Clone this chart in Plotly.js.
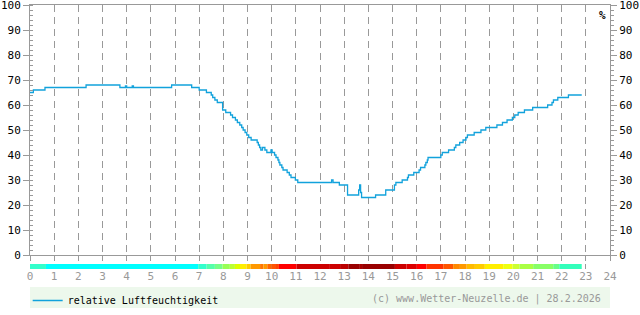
<!DOCTYPE html>
<html>
<head>
<meta charset="utf-8">
<script src="https://cdn.plot.ly/plotly-3.0.1.min.js"></script>
<style>
  html, body { margin: 0; padding: 0; background: #ffffff; }
  #chart { width: 640px; height: 315px; }
</style>
</head>
<body>
<div id="chart"></div>
<script>
// Relative humidity (%) - step change points (hour of day, value)
var hours = [0.00, 0.14, 0.62, 2.32, 3.72, 3.95, 4.00, 4.23, 4.28, 5.86, 6.69, 7.00, 7.30, 7.50, 7.56, 7.65, 7.75,
  7.97, 8.10, 8.30, 8.38, 8.50, 8.58, 8.68, 8.76, 8.82, 8.90, 8.97, 9.05, 9.15, 9.40, 9.45, 9.50, 9.55, 9.62,
  9.72, 9.80, 9.97, 10.02, 10.12, 10.18, 10.26, 10.30, 10.34, 10.42, 10.47, 10.64, 10.73, 10.80, 10.98, 11.08,
  12.48, 12.54, 12.80, 13.14, 13.60, 13.64, 13.68, 13.72, 14.30, 14.72, 15.08, 15.14, 15.40, 15.62, 15.66,
  15.88, 16.10, 16.16, 16.34, 16.38, 16.44, 16.47, 17.00, 17.06, 17.32, 17.56, 17.62, 17.78, 17.92, 18.04,
  18.10, 18.38, 18.66, 18.86, 19.32, 19.55, 19.74, 19.96, 20.06, 20.20, 20.46, 20.80, 21.42, 21.60, 21.66,
  21.84, 22.28, 22.83];
var humidity = [65, 66, 67, 68, 67, 67.6, 67, 67.6, 67, 68, 67, 66, 65, 64, 63, 62, 61,
  58, 57, 56, 55, 54, 53, 52, 51, 50, 49, 48, 47, 46, 45, 44, 43, 42, 43,
  42, 41, 42, 41, 40, 39, 38, 37, 36, 35, 34, 33, 32, 31, 30, 29,
  30, 29, 28, 24, 26, 28, 25, 23, 24, 26, 28, 29, 30, 31, 32,
  33, 34, 35, 36, 37, 38, 39, 40, 41, 42, 43, 44, 45, 46, 47,
  48, 49, 50, 51, 52, 53, 54, 55, 56, 57, 58, 59, 60, 61, 62,
  63, 64, 64];

// Colour strip below the axis (segment start hour, colour); last segment ends at stripEndHour
var stripStart = [0.00, 0.66, 6.96, 7.31, 7.65, 7.97, 8.27, 8.48, 8.69, 8.96, 9.13, 9.52, 9.66, 9.82, 10.00,
  10.14, 10.30, 11.03, 12.41, 12.83, 13.17, 13.65, 13.74, 15.10, 15.58, 16.00, 16.41, 17.10, 17.51, 17.79,
  18.07, 18.41, 18.82, 19.58, 19.97, 20.25, 20.82, 21.65, 21.90];
var stripColor = ['#33ffcc', '#00ffff', '#33ffcc', '#55ffaa', '#77ff88', '#99ff55', '#bbff33', '#ddff00',
  '#ffee00', '#ffcc00', '#ff9900', '#ff7700', '#ff9900', '#ff6600', '#ff5500',
  '#ff4400', '#ff0000', '#cc0000', '#cc0000', '#bb0000', '#990000', '#aa0000', '#990000', '#cc0000',
  '#dd0000', '#ff0000', '#ff3300', '#ff5500', '#ff8800', '#ff9900',
  '#ffbb00', '#ffcc00', '#ffee00', '#eeff11', '#ccff33', '#aaff44', '#88ff66', '#66ff88', '#33ffbb'];
var stripEndHour = 22.83;

var xTickVals = [0,1,2,3,4,5,6,7,8,9,10,11,12,13,14,15,16,17,18,19,20,21,22,23,24];
var yTickVals = [0,10,20,30,40,50,60,70,80,90,100];

var seriesName = 'relative Luftfeuchtigkeit';
var copyright = '(c) www.Wetter-Neuzelle.de | 28.2.2026';
var unitLabel = '%';

// build strip bars
var stripCenter = [], stripWidth = [], stripY = [];
for (var i = 0; i < stripStart.length; i++) {
  var end = (i + 1 < stripStart.length) ? stripStart[i + 1] : stripEndHour;
  stripCenter.push((stripStart[i] + end) / 2);
  stripWidth.push(end - stripStart[i]);
  stripY.push(1);
}

var mono = 'DejaVu Sans Mono, monospace';
var axisGrey = '#999999';

var traces = [
  {
    type: 'bar', x: stripCenter, y: stripY, width: stripWidth, base: 0,
    xaxis: 'x', yaxis: 'y2',
    marker: { color: stripColor, line: { width: 0 } },
    showlegend: false, hoverinfo: 'skip'
  },
  {
    type: 'scatter', mode: 'lines', x: hours, y: humidity,
    name: seriesName,
    line: { color: '#12a2dc', width: 1.3, shape: 'hv' },
    xaxis: 'x', yaxis: 'y'
  },
  {
    type: 'scatter', mode: 'lines', x: [null], y: [null],
    xaxis: 'x', yaxis: 'y3', showlegend: false, hoverinfo: 'skip'
  }
];

var plotTop = 5, plotBottom = 269, H = 315;
var plotH = plotBottom - plotTop;
function py(px) { return (plotBottom - px) / plotH; }

var layout = {
  width: 640, height: 315,
  margin: { l: 30, r: 30, t: plotTop, b: H - plotBottom, pad: 0, autoexpand: false },
  paper_bgcolor: '#ffffff', plot_bgcolor: 'rgba(0,0,0,0)',
  showlegend: true,
  font: { family: mono, size: 11, color: '#000000' },
  xaxis: {
    range: [0, 24], anchor: 'y', tickmode: 'array', tickvals: xTickVals,
    showgrid: true, gridcolor: axisGrey, griddash: '7px,5px', gridwidth: 1,
    showline: true, linecolor: axisGrey, linewidth: 1, mirror: true,
    ticks: 'outside', ticklen: 5, tickcolor: axisGrey, tickwidth: 1,
    tickfont: { family: mono, size: 11, color: axisGrey },
    ticklabelstandoff: 6,
    zeroline: false, fixedrange: true, automargin: false
  },
  yaxis: {
    domain: [py(255), 1], range: [0, 100], side: 'left', anchor: 'x',
    tickmode: 'array', tickvals: yTickVals,
    showgrid: false, zeroline: false,
    showline: true, linecolor: axisGrey, linewidth: 1,
    ticks: 'outside', ticklen: 6, tickcolor: axisGrey,
    minor: { dtick: 2, tick0: 0, ticks: 'inside', ticklen: 3, tickcolor: axisGrey, showgrid: false },
    tickfont: { family: mono, size: 11, color: '#000000' },
    ticklabeloverflow: 'allow', automargin: false,
    fixedrange: true
  },
  yaxis3: {
    overlaying: 'y', side: 'right', anchor: 'x', range: [0, 100],
    tickmode: 'array', tickvals: yTickVals,
    showgrid: false, zeroline: false,
    showline: true, linecolor: axisGrey, linewidth: 1,
    ticks: 'outside', ticklen: 6, tickcolor: axisGrey,
    minor: { dtick: 2, tick0: 0, ticks: 'outside', ticklen: 3, tickcolor: axisGrey, showgrid: false },
    tickfont: { family: mono, size: 11, color: '#000000' },
    ticklabeloverflow: 'allow', automargin: false,
    fixedrange: true
  },
  yaxis2: {
    domain: [0, py(264)], range: [0, 1], anchor: 'x', visible: false, fixedrange: true
  },
  legend: {
    x: -0.004, xanchor: 'left', y: py(286), yanchor: 'top',
    bgcolor: 'rgba(0,0,0,0)', borderwidth: 0,
    font: { family: mono, size: 10, color: '#000000' },
    orientation: 'h', itemwidth: 30
  },
  shapes: [
    {
      type: 'rect', xref: 'paper', yref: 'paper', x0: 0, x1: 1, y0: py(287), y1: py(308),
      fillcolor: '#edf8ec', line: { width: 0 }, layer: 'below'
    }
  ],
  annotations: [
    {
      text: copyright, xref: 'paper', yref: 'paper', x: (603 - 30) / 580, y: py(298.5),
      xanchor: 'right', yanchor: 'middle', showarrow: false,
      font: { family: mono, size: 10, color: axisGrey }
    },
    {
      text: '<b>' + unitLabel + '</b>', xref: 'paper', yref: 'paper', x: (602 - 30) / 580, y: py(16),
      xanchor: 'center', yanchor: 'middle', showarrow: false,
      font: { family: mono, size: 11, color: '#000000' }
    }
  ]
};

Plotly.newPlot('chart', traces, layout, { staticPlot: true, displayModeBar: false });
</script>
</body>
</html>
